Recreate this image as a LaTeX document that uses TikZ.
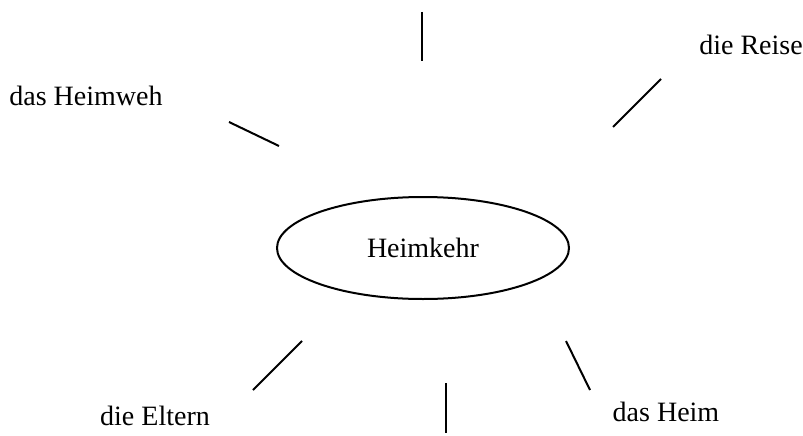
\documentclass[tikz,border=0pt]{standalone}
\usepackage{fontspec}
\setmainfont{Liberation Serif}
\usetikzlibrary{shapes.geometric}

\begin{document}
\begin{tikzpicture}[x=1pt, y=-1pt,
    word/.style={font=\fontsize{28}{33}\selectfont, inner sep=0pt},
    spoke/.style={line width=2pt}]
\useasboundingbox (0,0) rectangle (803,436);

\node[draw, ellipse, line width=2pt, minimum width=292pt, minimum height=102pt,
      inner sep=0pt, font=\fontsize{28}{33}\selectfont] (kehr) at (423,248) {Heimkehr};

\node[word] (reise) at (751,45) {die Reise};
\node[word] (weh) at (86,96) {das Heimweh};
\node[word] (eltern) at (155,416) {die Eltern};
\node[word] (heim) at (666,412) {das Heim};

\coordinate (n1) at (422,12);
\coordinate (n2) at (422,61);
\coordinate (ne1) at (661,79);
\coordinate (ne2) at (613,127);
\coordinate (nw1) at (229,122);
\coordinate (nw2) at (279,146);
\coordinate (sw1) at (302,341);
\coordinate (sw2) at (253,390);
\coordinate (s1) at (446,383);
\coordinate (s2) at (446,433);
\coordinate (se1) at (566,341);
\coordinate (se2) at (590,390);

\draw[spoke] (n1) -- (n2);
\draw[spoke] (ne1) -- (ne2);
\draw[spoke] (nw1) -- (nw2);
\draw[spoke] (sw1) -- (sw2);
\draw[spoke] (s1) -- (s2);
\draw[spoke] (se1) -- (se2);
\end{tikzpicture}
\end{document}
